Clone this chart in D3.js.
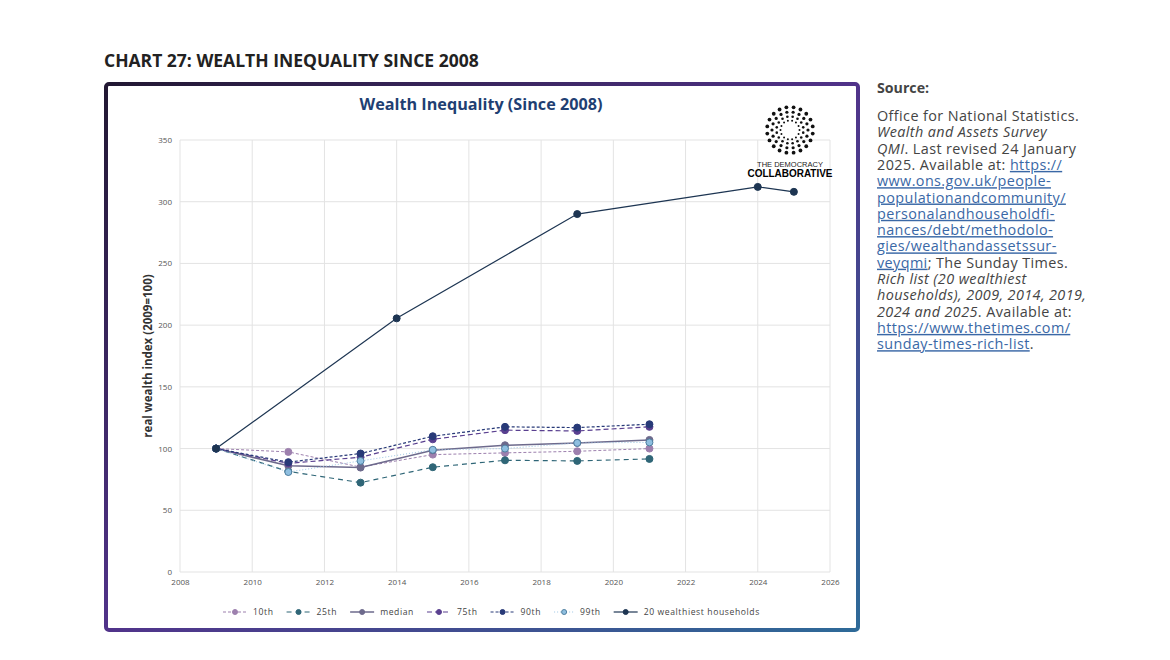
<!DOCTYPE html>
<html>
<head>
<meta charset="utf-8">
<script src="https://cdn.jsdelivr.net/npm/d3@7"></script>
<style>
  body { margin: 0; background: #fff; }
  svg { display: block; }
</style>
</head>
<body>
<div id="chart"></div>
<script>
// Data
const years = [2009, 2011, 2013, 2015, 2017, 2019, 2021]
const p10 = [100, 97.3, 85, 95.1, 96.5, 97.8, 100]
const p25 = [100, 81.5, 72.4, 84.9, 90.5, 90, 91.6]
const median = [100, 86, 84.6, 98.6, 102.7, 104.6, 107]
const p75 = [100, 88, 93, 107.5, 114.9, 114.3, 117.6]
const p90 = [100, 89, 96, 110, 117.6, 117, 119.7]
const p99 = [100, 81, 90, 99, 100, 104.6, 105]
const richYears = [2009, 2014, 2019, 2024, 2025]
const rich = [100, 205.5, 290, 312, 308]
const xTicks = [2008, 2010, 2012, 2014, 2016, 2018, 2020, 2022, 2024, 2026]
const yTicks = [0, 50, 100, 150, 200, 250, 300, 350]

const series = [
  { name: "10th", x: years, y: p10, color: "#9d80ae", fill: "#9d80ae", dash: "3,2", width: 1 },
  { name: "25th", x: years, y: p25, color: "#2f6677", fill: "#2f6677", dash: "5,4", width: 1.2 },
  { name: "median", x: years, y: median, color: "#6d6a8c", fill: "#6d6a8c", dash: null, width: 1.5 },
  { name: "75th", x: years, y: p75, color: "#5a4090", fill: "#5a4090", dash: "5,3", width: 1.2 },
  { name: "90th", x: years, y: p90, color: "#283a78", fill: "#283a78", dash: "3,2", width: 1.2 },
  { name: "99th", x: years, y: p99, color: "#9cc6e4", fill: "#8fbfe0", stroke: "#4f7fa0", dash: "1,2", width: 1 },
  { name: "20 wealthiest households", x: richYears, y: rich, color: "#1d3552", fill: "#1d3552", dash: null, width: 1.2 },
]

const sourceLines = [
  [["Office for National Statistics.", ""]],
  [["Wealth and Assets Survey", "i"]],
  [["QMI", "i"], [". Last revised 24 January", ""]],
  [["2025. Available at: ", ""], ["https://", "a"]],
  [["www.ons.gov.uk/people-", "a"]],
  [["populationandcommunity/", "a"]],
  [["personalandhouseholdfi-", "a"]],
  [["nances/debt/methodolo-", "a"]],
  [["gies/wealthandassetssur-", "a"]],
  [["veyqmi", "a"], ["; The Sunday Times.", ""]],
  [["Rich list (20 wealthiest", "i"]],
  [["households), 2009, 2014, 2019,", "i"]],
  [["2024 and 2025", "i"], [". Available at:", ""]],
  [["https://www.thetimes.com/", "a"]],
  [["sunday-times-rich-list", "a"], [".", ""]],
]

const font = "'Open Sans', 'Noto Sans', sans-serif"

const svg = d3.select("#chart").append("svg")
  .attr("width", 1170)
  .attr("height", 660)
  .style("font-family", font)

// Header
svg.append("text")
  .attr("x", 104).attr("y", 67)
  .attr("font-size", 17.5).attr("font-weight", 700)
  .attr("fill", "#222")
  .text("CHART 27: WEALTH INEQUALITY SINCE 2008")

// Frame with gradient border
const defs = svg.append("defs")
const grad = defs.append("linearGradient")
  .attr("id", "frame-grad")
  .attr("x1", "0%").attr("y1", "0%")
  .attr("x2", "100%").attr("y2", "100%")
grad.append("stop").attr("offset", "0%").attr("stop-color", "#221833")
grad.append("stop").attr("offset", "50%").attr("stop-color", "#51338a")
grad.append("stop").attr("offset", "100%").attr("stop-color", "#2e6a98")

svg.append("rect")
  .attr("x", 106).attr("y", 84)
  .attr("width", 752).attr("height", 546)
  .attr("rx", 3)
  .attr("fill", "#fff")
  .attr("stroke", "url(#frame-grad)")
  .attr("stroke-width", 4)

// Chart title
svg.append("text")
  .attr("x", 481).attr("y", 110)
  .attr("text-anchor", "middle")
  .attr("font-size", 16.2).attr("font-weight", 700)
  .attr("fill", "#1f3f73")
  .text("Wealth Inequality (Since 2008)")

// Scales
const xScale = d3.scaleLinear().domain([2008, 2026]).range([180, 830])
const yScale = d3.scaleLinear().domain([0, 350]).range([572, 140])

// Grid
const grid = svg.append("g")
grid.selectAll(".vg").data(xTicks).join("line")
  .attr("x1", d => xScale(d)).attr("x2", d => xScale(d))
  .attr("y1", yScale(0)).attr("y2", yScale(350))
  .attr("stroke", "#e3e3e3").attr("stroke-width", 1)
grid.selectAll(".hg").data(yTicks).join("line")
  .attr("x1", xScale(2008)).attr("x2", xScale(2026))
  .attr("y1", d => yScale(d)).attr("y2", d => yScale(d))
  .attr("stroke", "#e3e3e3").attr("stroke-width", 1)

// Axes
const xAxis = svg.append("g")
  .attr("transform", `translate(0, ${yScale(0)})`)
  .call(d3.axisBottom(xScale).tickValues(xTicks).tickFormat(d3.format("d")).tickSize(0).tickPadding(7))
const yAxis = svg.append("g")
  .attr("transform", `translate(${xScale(2008)}, 0)`)
  .call(d3.axisLeft(yScale).tickValues(yTicks).tickSize(0).tickPadding(8))
;[xAxis, yAxis].forEach(a => {
  a.select(".domain").remove()
  a.selectAll("text")
    .attr("font-family", font)
    .attr("font-size", 8)
    .attr("fill", "#555")
})

svg.append("text")
  .attr("transform", `translate(152, ${yScale(175)}) rotate(-90)`)
  .attr("text-anchor", "middle")
  .attr("font-size", 11.5).attr("font-weight", 700)
  .attr("fill", "#333")
  .text("real wealth index (2009=100)")

// Lines
const line = d3.line()
  .x(d => xScale(d[0]))
  .y(d => yScale(d[1]))

series.forEach(s => {
  const pts = s.x.map((x, i) => [x, s.y[i]])
  svg.append("path")
    .datum(pts)
    .attr("fill", "none")
    .attr("stroke", s.color)
    .attr("stroke-width", s.width)
    .attr("stroke-dasharray", s.dash)
    .attr("d", line)
})

series.forEach(s => {
  const pts = s.x.map((x, i) => [x, s.y[i]])
  svg.append("g").selectAll("circle").data(pts).join("circle")
    .attr("cx", d => xScale(d[0]))
    .attr("cy", d => yScale(d[1]))
    .attr("r", 3.5)
    .attr("fill", s.fill)
    .attr("stroke", s.stroke || s.fill)
    .attr("stroke-width", 1)
})

// Legend
const legend = svg.append("g").attr("transform", "translate(0, 612)")
let lx = 223
series.forEach(s => {
  const g = legend.append("g")
  const sw = s.name === "99th" ? 20 : 24
  g.append("line")
    .attr("x1", lx).attr("x2", lx + sw)
    .attr("y1", 0).attr("y2", 0)
    .attr("stroke", s.color)
    .attr("stroke-width", s.width)
    .attr("stroke-dasharray", s.dash)
  g.append("circle")
    .attr("cx", lx + sw / 2).attr("cy", 0).attr("r", 2.5)
    .attr("fill", s.fill)
    .attr("stroke", s.stroke || s.fill)
  const t = g.append("text")
    .attr("x", lx + sw + 6).attr("y", 3)
    .attr("font-size", 8.6)
    .attr("letter-spacing", 0.6)
    .attr("fill", "#444")
    .text(s.name)
  lx = lx + sw + 6 + t.node().getComputedTextLength() + 13
})

// Logo
const logo = svg.append("g").attr("transform", "translate(790, 130)")
const rings = [
  { r: 9.5, n: 14, size: 1.0, off: 0 },
  { r: 13.5, n: 16, size: 1.3, off: 0.5 },
  { r: 18, n: 18, size: 1.6, off: 0 },
  { r: 23, n: 20, size: 1.9, off: 0.5 },
]
rings.forEach(ring => {
  logo.selectAll(null).data(d3.range(ring.n)).join("circle")
    .attr("cx", i => ring.r * Math.cos((i + ring.off) / ring.n * 2 * Math.PI))
    .attr("cy", i => ring.r * Math.sin((i + ring.off) / ring.n * 2 * Math.PI))
    .attr("r", ring.size)
    .attr("fill", "#111")
})
svg.append("text")
  .attr("x", 790).attr("y", 167)
  .attr("text-anchor", "middle")
  .attr("font-family", "'Liberation Sans', Arial, sans-serif")
  .attr("font-size", 7.5)
  .attr("fill", "#222")
  .text("THE DEMOCRACY")
svg.append("text")
  .attr("x", 790).attr("y", 177)
  .attr("text-anchor", "middle")
  .attr("font-family", "'Liberation Sans Narrow', 'Liberation Sans', Arial, sans-serif")
  .attr("font-size", 11.5).attr("font-weight", 700)
  .attr("textLength", 85).attr("lengthAdjust", "spacingAndGlyphs")
  .attr("fill", "#000")
  .text("COLLABORATIVE")

// Source
svg.append("text")
  .attr("x", 877).attr("y", 93)
  .attr("font-size", 14.2).attr("font-weight", 700)
  .attr("fill", "#444")
  .text("Source:")

const src = svg.append("text")
  .attr("font-size", 14.4)
  .attr("letter-spacing", 0.4)
  .attr("fill", "#444")
sourceLines.forEach((segs, i) => {
  segs.forEach((seg, j) => {
    const ts = src.append("tspan").text(seg[0])
    if (j === 0) ts.attr("x", 877).attr("y", 121 + i * 16.3)
    if (seg[1] === "i") ts.attr("font-style", "italic")
    if (seg[1] === "a") ts.attr("fill", "#3a68a6").attr("text-decoration", "underline")
  })
})
</script>
</body>
</html>
